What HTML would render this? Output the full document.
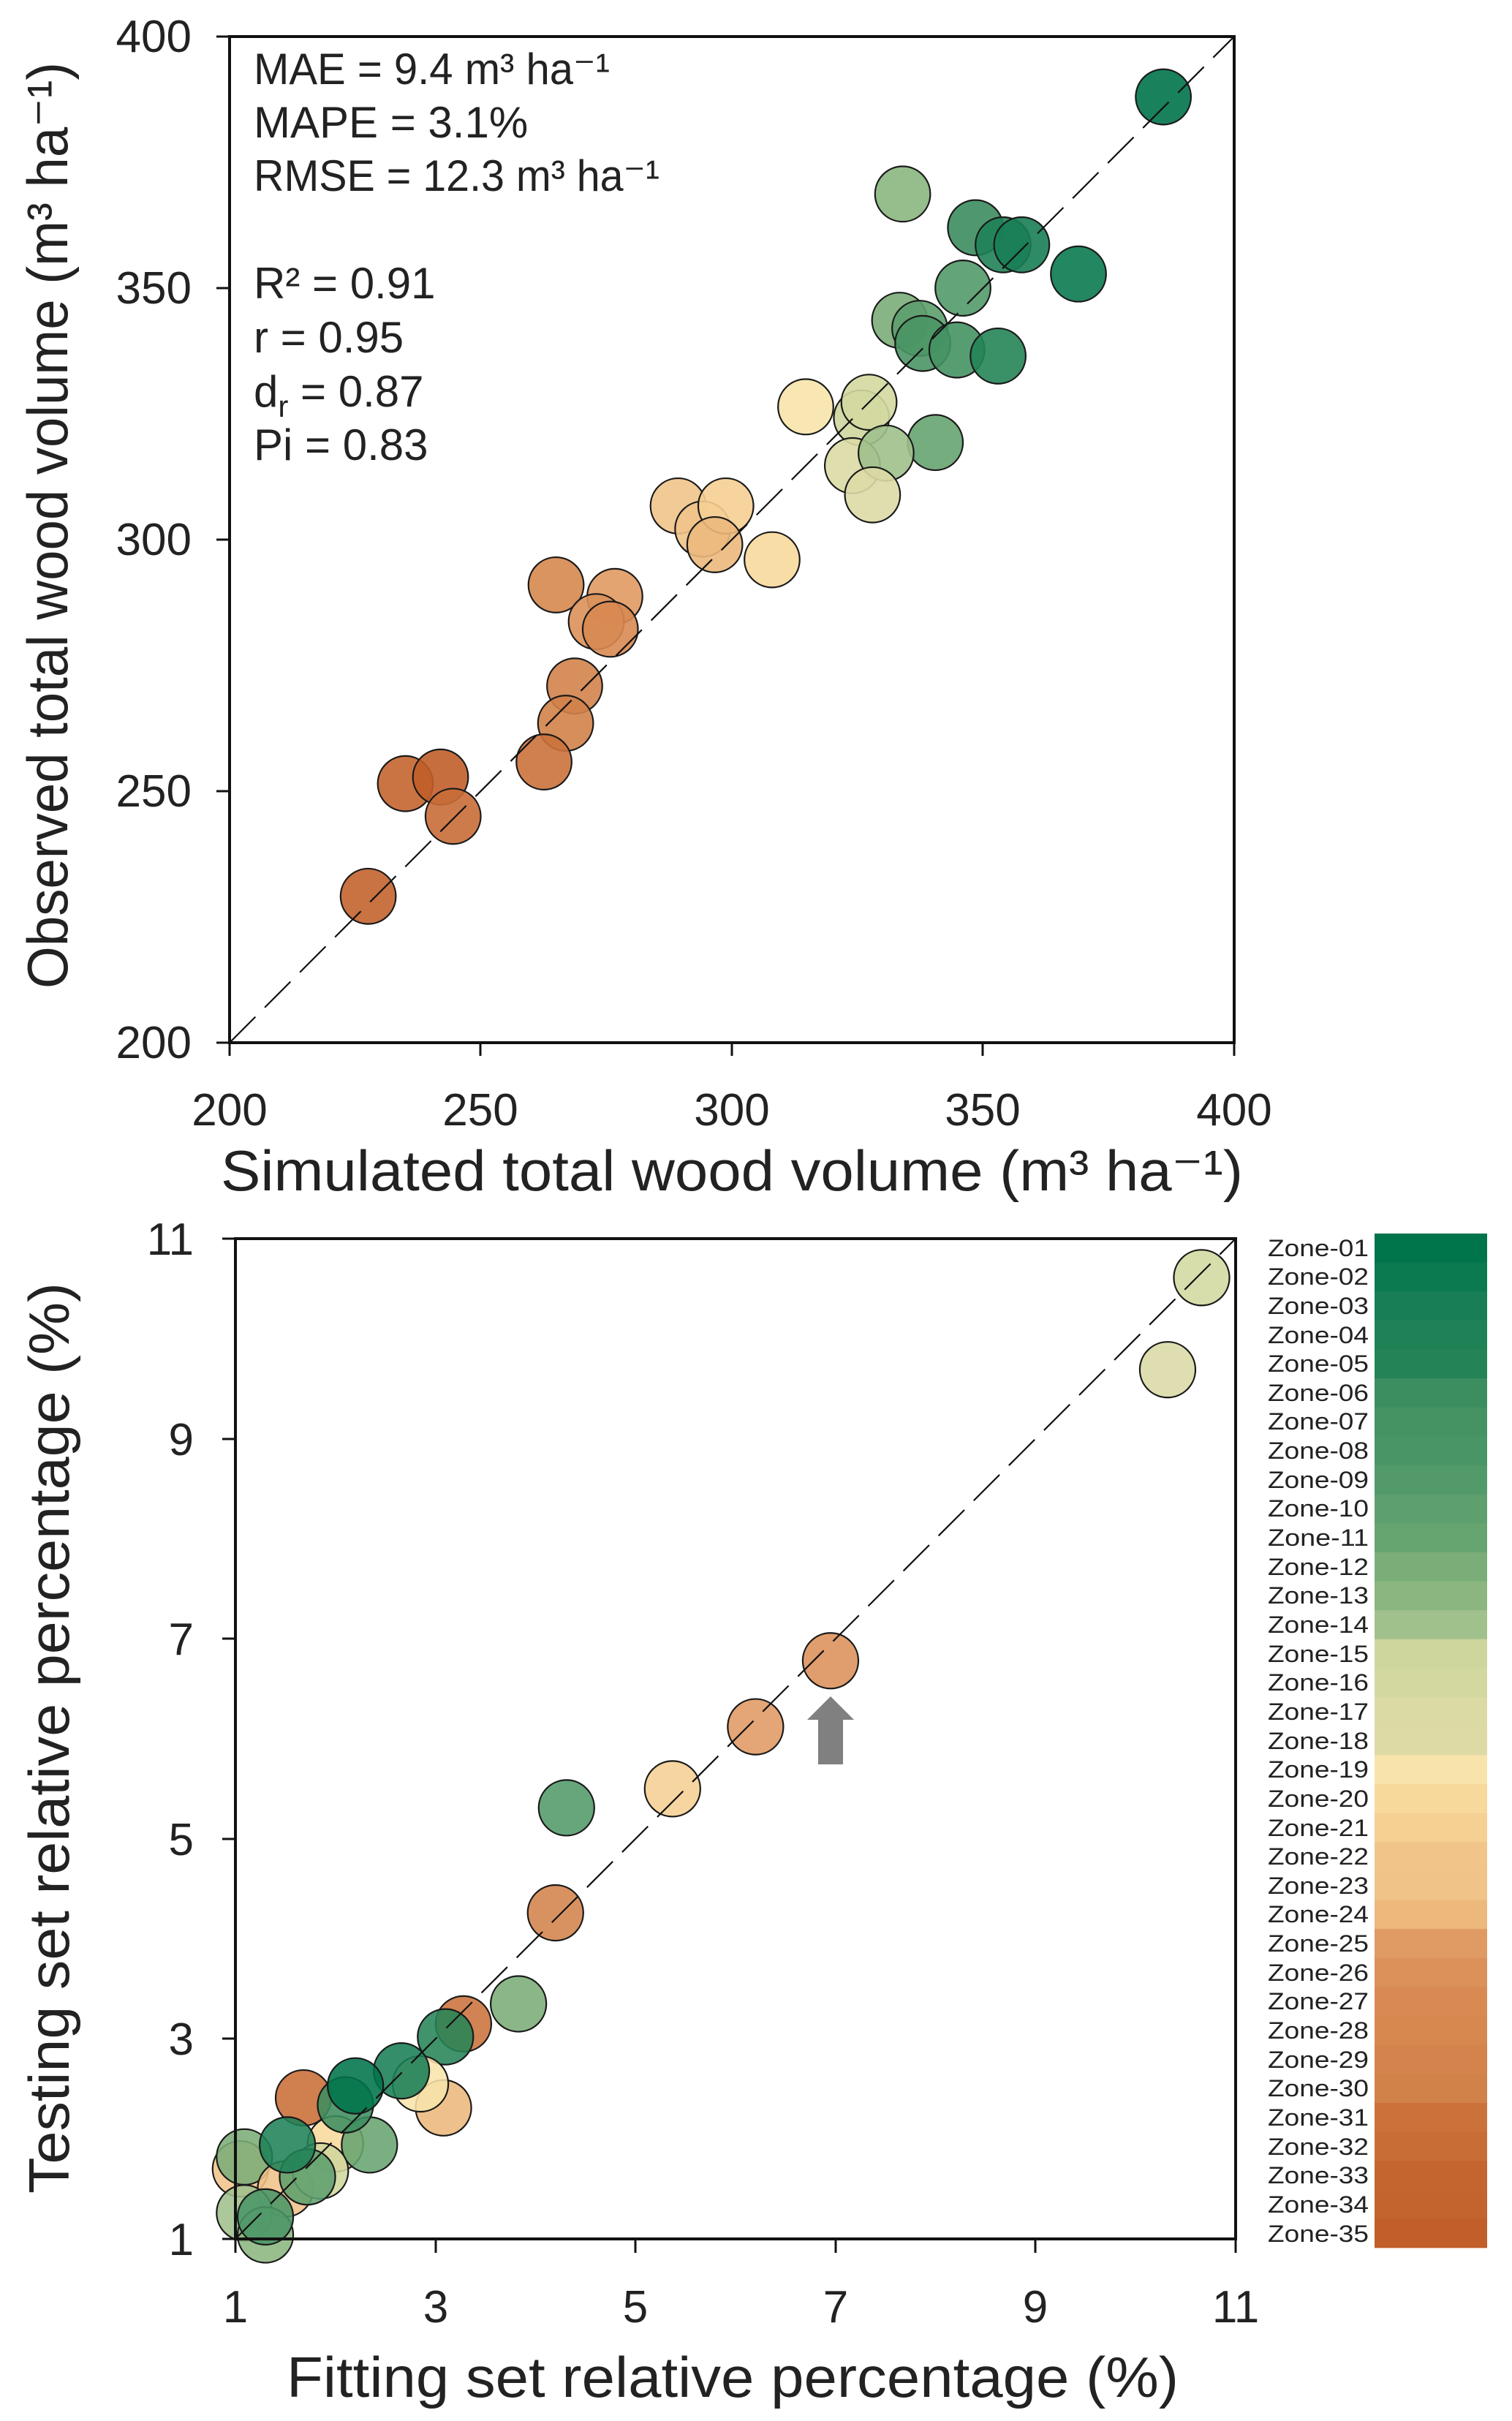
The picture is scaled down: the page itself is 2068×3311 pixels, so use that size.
<!DOCTYPE html>
<html><head><meta charset="utf-8"><style>
html,body{margin:0;padding:0;background:#fff}
svg{display:block}
text{font-family:"Liberation Sans","DejaVu Sans",sans-serif;fill:#222}
</style></head><body>
<svg width="2068" height="3311" viewBox="0 0 2068 3311" xmlns="http://www.w3.org/2000/svg">
<rect width="2068" height="3311" fill="#fff"/>

<!-- ============ TOP PLOT ============ -->
<g transform="translate(314,50) scale(6.87,-6.88) translate(-200,-400)" stroke="#1a1a1a" stroke-width="2.2" fill-opacity="0.9">
<g vector-effect="non-scaling-stroke">
<circle cx="385.9" cy="388" r="5.5" fill="#00744b" vector-effect="non-scaling-stroke"/>
<circle cx="334" cy="368.7" r="5.5" fill="#8bb67f" vector-effect="non-scaling-stroke"/>
<circle cx="348.5" cy="362" r="5.5" fill="#3c8d5f" vector-effect="non-scaling-stroke"/>
<circle cx="354" cy="358.6" r="5.5" fill="#1f8256" vector-effect="non-scaling-stroke"/>
<circle cx="357.7" cy="358.6" r="5.5" fill="#187e55" vector-effect="non-scaling-stroke"/>
<circle cx="369" cy="352.8" r="5.5" fill="#0b7a50" vector-effect="non-scaling-stroke"/>
<circle cx="346" cy="350" r="5.5" fill="#529a69" vector-effect="non-scaling-stroke"/>
<circle cx="333.4" cy="343.6" r="5.5" fill="#7bad78" vector-effect="non-scaling-stroke"/>
<circle cx="337.4" cy="342" r="5.5" fill="#5d9f6d" vector-effect="non-scaling-stroke"/>
<circle cx="338" cy="339" r="5.5" fill="#4a9565" vector-effect="non-scaling-stroke"/>
<circle cx="344.8" cy="337.7" r="5.5" fill="#459263" vector-effect="non-scaling-stroke"/>
<circle cx="353" cy="336.5" r="5.5" fill="#258457" vector-effect="non-scaling-stroke"/>
<circle cx="314.7" cy="326.4" r="5.5" fill="#f8e4ab" vector-effect="non-scaling-stroke"/>
<circle cx="325.8" cy="324.2" r="5.5" fill="#cfd69d" vector-effect="non-scaling-stroke"/>
<circle cx="327.3" cy="327.3" r="5.5" fill="#d3d8a0" vector-effect="non-scaling-stroke"/>
<circle cx="340.5" cy="319.3" r="5.5" fill="#66a470" vector-effect="non-scaling-stroke"/>
<circle cx="324" cy="314.7" r="5.5" fill="#dbdaa5" vector-effect="non-scaling-stroke"/>
<circle cx="330.7" cy="317.2" r="5.5" fill="#a0c08c" vector-effect="non-scaling-stroke"/>
<circle cx="328" cy="308.9" r="5.5" fill="#dddaa6" vector-effect="non-scaling-stroke"/>
<circle cx="289.3" cy="306.7" r="5.5" fill="#f1c48a" vector-effect="non-scaling-stroke"/>
<circle cx="294.2" cy="302.1" r="5.5" fill="#f0c389" vector-effect="non-scaling-stroke"/>
<circle cx="298.8" cy="306.7" r="5.5" fill="#f6cf93" vector-effect="non-scaling-stroke"/>
<circle cx="296.6" cy="299" r="5.5" fill="#ecb87c" vector-effect="non-scaling-stroke"/>
<circle cx="308" cy="296" r="5.5" fill="#f8d99c" vector-effect="non-scaling-stroke"/>
<circle cx="265" cy="291" r="5.5" fill="#d6884f" vector-effect="non-scaling-stroke"/>
<circle cx="276.7" cy="288.7" r="5.5" fill="#e09a63" vector-effect="non-scaling-stroke"/>
<circle cx="273" cy="283.7" r="5.5" fill="#dc915a" vector-effect="non-scaling-stroke"/>
<circle cx="275.8" cy="282.2" r="5.5" fill="#d88a52" vector-effect="non-scaling-stroke"/>
<circle cx="268.7" cy="270.9" r="5.5" fill="#d3834b" vector-effect="non-scaling-stroke"/>
<circle cx="266.9" cy="263.5" r="5.5" fill="#d18249" vector-effect="non-scaling-stroke"/>
<circle cx="262.6" cy="255.8" r="5.5" fill="#cb723b" vector-effect="non-scaling-stroke"/>
<circle cx="235" cy="251.5" r="5.5" fill="#c46530" vector-effect="non-scaling-stroke"/>
<circle cx="242" cy="252.8" r="5.5" fill="#c15e2a" vector-effect="non-scaling-stroke"/>
<circle cx="244.5" cy="245" r="5.5" fill="#c96d37" vector-effect="non-scaling-stroke"/>
<circle cx="227.6" cy="229.1" r="5.5" fill="#c3632e" vector-effect="non-scaling-stroke"/>
</g>
</g>
<line x1="314" y1="1426" x2="1688" y2="50" stroke="#111" stroke-width="2.2" stroke-dasharray="50 18"/>
<rect x="314" y="50" width="1374" height="1376" fill="none" stroke="#111" stroke-width="4"/>
<g stroke="#111" stroke-width="3">
<line x1="296" y1="50" x2="314" y2="50"/><line x1="296" y1="394" x2="314" y2="394"/><line x1="296" y1="738" x2="314" y2="738"/><line x1="296" y1="1082" x2="314" y2="1082"/><line x1="296" y1="1426" x2="314" y2="1426"/>
<line x1="314" y1="1426" x2="314" y2="1444"/><line x1="657" y1="1426" x2="657" y2="1444"/><line x1="1001" y1="1426" x2="1001" y2="1444"/><line x1="1344" y1="1426" x2="1344" y2="1444"/><line x1="1688" y1="1426" x2="1688" y2="1444"/>
</g>
<g font-size="62" text-anchor="end" fill="#333">
<text x="262" y="71">400</text><text x="262" y="415">350</text><text x="262" y="759">300</text><text x="262" y="1103">250</text><text x="262" y="1447">200</text>
</g>
<g font-size="62" text-anchor="middle">
<text x="314" y="1539">200</text><text x="657" y="1539">250</text><text x="1001" y="1539">300</text><text x="1344" y="1539">350</text><text x="1688" y="1539">400</text>
</g>
<text x="302" y="1628" font-size="78" textLength="1398" lengthAdjust="spacingAndGlyphs">Simulated total wood volume (m³ ha⁻¹)</text>
<text transform="translate(92,1352) rotate(-90)" font-size="78" textLength="1267" lengthAdjust="spacingAndGlyphs">Observed total wood volume (m³ ha⁻¹)</text>

<g font-size="60" fill="#333">
<text x="347" y="115" textLength="487" lengthAdjust="spacingAndGlyphs">MAE = 9.4 m³ ha⁻¹</text>
<text x="347" y="188">MAPE = 3.1%</text>
<text x="347" y="261" textLength="555" lengthAdjust="spacingAndGlyphs">RMSE = 12.3 m³ ha⁻¹</text>
<text x="347" y="408">R² = 0.91</text>
<text x="347" y="482">r = 0.95</text>
<text x="347" y="556">d<tspan font-size="42" dy="14">r</tspan><tspan dy="-14"> = 0.87</tspan></text>
<text x="347" y="629">Pi = 0.83</text>
</g>

<!-- ============ BOTTOM PLOT ============ -->
<g transform="translate(322,1694) scale(136.8,-136.8) translate(-1,-11)" stroke="#1a1a1a" stroke-width="2.2" fill-opacity="0.88">
<circle cx="10.66" cy="10.61" r="0.278" fill="#d3d8a0" vector-effect="non-scaling-stroke"/>
<circle cx="10.32" cy="9.69" r="0.278" fill="#dbdaa5" vector-effect="non-scaling-stroke"/>
<circle cx="6.95" cy="6.78" r="0.278" fill="#dc915a" vector-effect="non-scaling-stroke"/>
<circle cx="6.2" cy="6.12" r="0.278" fill="#e09a63" vector-effect="non-scaling-stroke"/>
<circle cx="5.37" cy="5.5" r="0.278" fill="#f6cf93" vector-effect="non-scaling-stroke"/>
<circle cx="4.31" cy="5.31" r="0.278" fill="#529a69" vector-effect="non-scaling-stroke"/>
<circle cx="4.2" cy="4.26" r="0.278" fill="#d3834b" vector-effect="non-scaling-stroke"/>
<circle cx="3.83" cy="3.35" r="0.278" fill="#7bad78" vector-effect="non-scaling-stroke"/>
<circle cx="3.28" cy="3.15" r="0.278" fill="#cb723b" vector-effect="non-scaling-stroke"/>
<circle cx="3.1" cy="3.02" r="0.278" fill="#258457" vector-effect="non-scaling-stroke"/>
<circle cx="3.08" cy="2.31" r="0.278" fill="#ecb87c" vector-effect="non-scaling-stroke"/>
<circle cx="2.85" cy="2.55" r="0.278" fill="#f8e4ab" vector-effect="non-scaling-stroke"/>
<circle cx="2.66" cy="2.68" r="0.278" fill="#187e55" vector-effect="non-scaling-stroke"/>
<circle cx="1.68" cy="2.41" r="0.278" fill="#c96d37" vector-effect="non-scaling-stroke"/>
<circle cx="2.0" cy="1.95" r="0.278" fill="#f8d99c" vector-effect="non-scaling-stroke"/>
<circle cx="2.34" cy="1.94" r="0.278" fill="#66a470" vector-effect="non-scaling-stroke"/>
<circle cx="2.1" cy="2.34" r="0.278" fill="#3c8d5f" vector-effect="non-scaling-stroke"/>
<circle cx="2.2" cy="2.53" r="0.278" fill="#00744b" vector-effect="non-scaling-stroke"/>
<circle cx="1.05" cy="1.7" r="0.278" fill="#f1c48a" vector-effect="non-scaling-stroke"/>
<circle cx="1.09" cy="1.82" r="0.278" fill="#7bad78" vector-effect="non-scaling-stroke"/>
<circle cx="1.5" cy="1.5" r="0.278" fill="#f0c389" vector-effect="non-scaling-stroke"/>
<circle cx="1.85" cy="1.68" r="0.278" fill="#cfd69d" vector-effect="non-scaling-stroke"/>
<circle cx="1.72" cy="1.62" r="0.278" fill="#5d9f6d" vector-effect="non-scaling-stroke"/>
<circle cx="1.52" cy="1.94" r="0.278" fill="#1f8256" vector-effect="non-scaling-stroke"/>
<circle cx="1.09" cy="1.26" r="0.278" fill="#a0c08c" vector-effect="non-scaling-stroke"/>
<circle cx="1.3" cy="1.04" r="0.278" fill="#8bb67f" vector-effect="non-scaling-stroke"/>
<circle cx="1.3" cy="1.22" r="0.278" fill="#4a9565" vector-effect="non-scaling-stroke"/>
</g>
<line x1="322" y1="3062" x2="1690" y2="1694" stroke="#111" stroke-width="2.2" stroke-dasharray="50 18"/>
<rect x="322" y="1694" width="1368" height="1368" fill="none" stroke="#111" stroke-width="4"/>
<g stroke="#111" stroke-width="3">
<line x1="304" y1="1694" x2="322" y2="1694"/><line x1="304" y1="1968" x2="322" y2="1968"/><line x1="304" y1="2241" x2="322" y2="2241"/><line x1="304" y1="2515" x2="322" y2="2515"/><line x1="304" y1="2788" x2="322" y2="2788"/><line x1="304" y1="3062" x2="322" y2="3062"/>
<line x1="322" y1="3062" x2="322" y2="3081"/><line x1="596" y1="3062" x2="596" y2="3081"/><line x1="869" y1="3062" x2="869" y2="3081"/><line x1="1143" y1="3062" x2="1143" y2="3081"/><line x1="1416" y1="3062" x2="1416" y2="3081"/><line x1="1690" y1="3062" x2="1690" y2="3081"/>
</g>
<g font-size="62" text-anchor="end" fill="#333">
<text x="265" y="1716">11</text><text x="265" y="1990">9</text><text x="265" y="2263">7</text><text x="265" y="2537">5</text><text x="265" y="2810">3</text><text x="265" y="3084">1</text>
</g>
<g font-size="62" text-anchor="middle">
<text x="322" y="3176">1</text><text x="596" y="3176">3</text><text x="869" y="3176">5</text><text x="1143" y="3176">7</text><text x="1416" y="3176">9</text><text x="1690" y="3176">11</text>
</g>
<text x="392" y="3278" font-size="78" textLength="1220" lengthAdjust="spacingAndGlyphs">Fitting set relative percentage (%)</text>
<text transform="translate(94,3000) rotate(-90)" font-size="78" textLength="1246" lengthAdjust="spacingAndGlyphs">Testing set relative percentage (%)</text>

<!-- arrow -->
<polygon points="1136,2320 1168,2352 1153,2352 1153,2413 1119,2413 1119,2352 1104,2352" fill="#808080"/>

<!-- legend -->
<g>
<rect x="1880" y="1687.0" width="154" height="40.6" fill="#00744b"/>
<rect x="1880" y="1726.6" width="154" height="40.6" fill="#0b7a50"/>
<rect x="1880" y="1766.3" width="154" height="40.6" fill="#187e55"/>
<rect x="1880" y="1805.9" width="154" height="40.6" fill="#1f8256"/>
<rect x="1880" y="1845.5" width="154" height="40.6" fill="#258457"/>
<rect x="1880" y="1885.2" width="154" height="40.6" fill="#3c8d5f"/>
<rect x="1880" y="1924.8" width="154" height="40.6" fill="#459263"/>
<rect x="1880" y="1964.4" width="154" height="40.6" fill="#4a9565"/>
<rect x="1880" y="2004.0" width="154" height="40.6" fill="#529a69"/>
<rect x="1880" y="2043.7" width="154" height="40.6" fill="#5d9f6d"/>
<rect x="1880" y="2083.3" width="154" height="40.6" fill="#66a470"/>
<rect x="1880" y="2122.9" width="154" height="40.6" fill="#7bad78"/>
<rect x="1880" y="2162.6" width="154" height="40.6" fill="#8bb67f"/>
<rect x="1880" y="2202.2" width="154" height="40.6" fill="#a0c08c"/>
<rect x="1880" y="2241.8" width="154" height="40.6" fill="#cfd69d"/>
<rect x="1880" y="2281.5" width="154" height="40.6" fill="#d3d8a0"/>
<rect x="1880" y="2321.1" width="154" height="40.6" fill="#dbdaa5"/>
<rect x="1880" y="2360.7" width="154" height="40.6" fill="#dddaa6"/>
<rect x="1880" y="2400.3" width="154" height="40.6" fill="#f8e4ab"/>
<rect x="1880" y="2440.0" width="154" height="40.6" fill="#f8d99c"/>
<rect x="1880" y="2479.6" width="154" height="40.6" fill="#f6cf93"/>
<rect x="1880" y="2519.2" width="154" height="40.6" fill="#f1c48a"/>
<rect x="1880" y="2558.9" width="154" height="40.6" fill="#f0c389"/>
<rect x="1880" y="2598.5" width="154" height="40.6" fill="#ecb87c"/>
<rect x="1880" y="2638.1" width="154" height="40.6" fill="#e09a63"/>
<rect x="1880" y="2677.8" width="154" height="40.6" fill="#dc915a"/>
<rect x="1880" y="2717.4" width="154" height="40.6" fill="#d88a52"/>
<rect x="1880" y="2757.0" width="154" height="40.6" fill="#d6884f"/>
<rect x="1880" y="2796.6" width="154" height="40.6" fill="#d3834b"/>
<rect x="1880" y="2836.3" width="154" height="40.6" fill="#d18249"/>
<rect x="1880" y="2875.9" width="154" height="40.6" fill="#cb723b"/>
<rect x="1880" y="2915.5" width="154" height="40.6" fill="#c96d37"/>
<rect x="1880" y="2955.2" width="154" height="40.6" fill="#c46530"/>
<rect x="1880" y="2994.8" width="154" height="40.6" fill="#c3632e"/>
<rect x="1880" y="3034.4" width="154" height="40.0" fill="#c15e2a"/>
</g>
<g font-size="32" fill="#3b2f55" style="fill:#3b2f55">
<text x="1734" y="1718" textLength="138" lengthAdjust="spacingAndGlyphs">Zone-01</text>
<text x="1734" y="1757" textLength="138" lengthAdjust="spacingAndGlyphs">Zone-02</text>
<text x="1734" y="1797" textLength="138" lengthAdjust="spacingAndGlyphs">Zone-03</text>
<text x="1734" y="1837" textLength="138" lengthAdjust="spacingAndGlyphs">Zone-04</text>
<text x="1734" y="1876" textLength="138" lengthAdjust="spacingAndGlyphs">Zone-05</text>
<text x="1734" y="1916" textLength="138" lengthAdjust="spacingAndGlyphs">Zone-06</text>
<text x="1734" y="1955" textLength="138" lengthAdjust="spacingAndGlyphs">Zone-07</text>
<text x="1734" y="1995" textLength="138" lengthAdjust="spacingAndGlyphs">Zone-08</text>
<text x="1734" y="2035" textLength="138" lengthAdjust="spacingAndGlyphs">Zone-09</text>
<text x="1734" y="2074" textLength="138" lengthAdjust="spacingAndGlyphs">Zone-10</text>
<text x="1734" y="2114" textLength="138" lengthAdjust="spacingAndGlyphs">Zone-11</text>
<text x="1734" y="2154" textLength="138" lengthAdjust="spacingAndGlyphs">Zone-12</text>
<text x="1734" y="2193" textLength="138" lengthAdjust="spacingAndGlyphs">Zone-13</text>
<text x="1734" y="2233" textLength="138" lengthAdjust="spacingAndGlyphs">Zone-14</text>
<text x="1734" y="2273" textLength="138" lengthAdjust="spacingAndGlyphs">Zone-15</text>
<text x="1734" y="2312" textLength="138" lengthAdjust="spacingAndGlyphs">Zone-16</text>
<text x="1734" y="2352" textLength="138" lengthAdjust="spacingAndGlyphs">Zone-17</text>
<text x="1734" y="2392" textLength="138" lengthAdjust="spacingAndGlyphs">Zone-18</text>
<text x="1734" y="2431" textLength="138" lengthAdjust="spacingAndGlyphs">Zone-19</text>
<text x="1734" y="2471" textLength="138" lengthAdjust="spacingAndGlyphs">Zone-20</text>
<text x="1734" y="2511" textLength="138" lengthAdjust="spacingAndGlyphs">Zone-21</text>
<text x="1734" y="2550" textLength="138" lengthAdjust="spacingAndGlyphs">Zone-22</text>
<text x="1734" y="2590" textLength="138" lengthAdjust="spacingAndGlyphs">Zone-23</text>
<text x="1734" y="2629" textLength="138" lengthAdjust="spacingAndGlyphs">Zone-24</text>
<text x="1734" y="2669" textLength="138" lengthAdjust="spacingAndGlyphs">Zone-25</text>
<text x="1734" y="2709" textLength="138" lengthAdjust="spacingAndGlyphs">Zone-26</text>
<text x="1734" y="2748" textLength="138" lengthAdjust="spacingAndGlyphs">Zone-27</text>
<text x="1734" y="2788" textLength="138" lengthAdjust="spacingAndGlyphs">Zone-28</text>
<text x="1734" y="2828" textLength="138" lengthAdjust="spacingAndGlyphs">Zone-29</text>
<text x="1734" y="2867" textLength="138" lengthAdjust="spacingAndGlyphs">Zone-30</text>
<text x="1734" y="2907" textLength="138" lengthAdjust="spacingAndGlyphs">Zone-31</text>
<text x="1734" y="2947" textLength="138" lengthAdjust="spacingAndGlyphs">Zone-32</text>
<text x="1734" y="2986" textLength="138" lengthAdjust="spacingAndGlyphs">Zone-33</text>
<text x="1734" y="3026" textLength="138" lengthAdjust="spacingAndGlyphs">Zone-34</text>
<text x="1734" y="3066" textLength="138" lengthAdjust="spacingAndGlyphs">Zone-35</text>
</g>
</svg>
</body></html>
